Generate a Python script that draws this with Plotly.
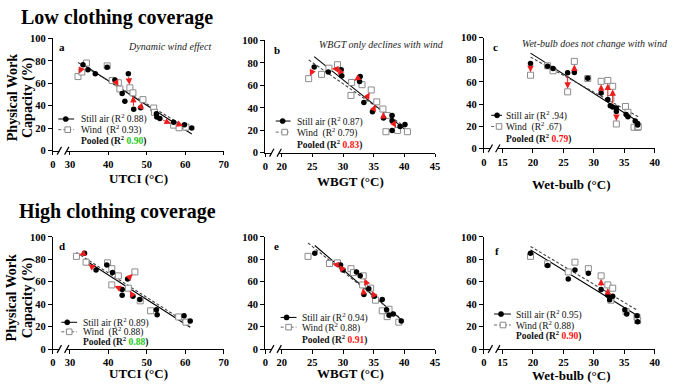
import numpy as np
import plotly.graph_objects as go

W, H = 676, 390
SERIF = "Liberation Serif"

# ---------------- data ----------------
# Panel a: UTCI, low clothing coverage
a_still_x = [33.4, 34.7, 41.7, 45.2, 46.6, 48.4, 53.4, 57.0, 39.7, 36.6, 43.6, 44.3, 52.5, 52.6, 59.8, 61.7]
a_still_y = [76.5, 72.0, 63.0, 68.5, 37.0, 38.3, 28.6, 25.4, 74.3, 68.6, 51.0, 44.0, 33.0, 30.0, 23.2, 20.2]
a_wind_x = [32.1, 34.3, 43.0, 45.6, 46.4, 49.0, 57.0, 60.2, 39.7, 33.1, 41.0, 42.6, 51.8, 52.0, 58.4]
a_wind_y = [66.0, 78.0, 55.0, 56.0, 51.5, 45.5, 22.8, 21.0, 75.5, 70.0, 62.5, 60.5, 38.0, 34.2, 20.5]
a_pairs = 9

# Panel b: WBGT, low clothing coverage
b_still_x = [25.3, 29.7, 32.8, 32.7, 33.4, 34.8, 36.6, 38.0, 38.0, 38.0, 29.8, 27.6, 39.3, 40.1]
b_still_y = [76.4, 74.0, 67.8, 63.4, 44.7, 36.6, 30.9, 33.2, 28.5, 19.9, 68.5, 71.8, 23.4, 25.1]
b_wind_x = [24.4, 27.7, 31.4, 33.1, 34.6, 35.5, 36.5, 37.2, 38.9, 37.0, 29.1, 26.5, 31.3, 40.5]
b_wind_y = [66.0, 75.3, 62.6, 60.6, 55.9, 45.3, 38.9, 33.2, 19.9, 18.7, 78.4, 69.8, 51.0, 18.7]
b_pairs = 11

# Panel c: Wet-bulb, low clothing coverage
c_still_x = [19.6, 22.4, 23.3, 25.7, 26.8, 29.0, 31.2, 32.3, 33.1, 32.7, 33.7, 35.3, 35.6, 36.8, 37.2, 37.2, 33.7]
c_still_y = [76.5, 74.0, 72.0, 68.3, 68.5, 63.3, 50.0, 44.0, 37.3, 38.5, 33.3, 30.5, 28.5, 24.7, 22.5, 21.0, 36.4]
c_wind_x = [19.6, 22.4, 23.3, 25.7, 26.8, 29.0, 31.2, 32.3, 33.1, 32.8, 33.7, 35.2, 35.6, 36.6, 37.2, 37.3]
c_wind_y = [66.0, 74.5, 70.0, 51.0, 78.5, 63.0, 60.5, 61.3, 56.0, 45.0, 22.0, 37.8, 32.5, 19.0, 19.0, 19.5]
c_pairs = 16

# Panel d: UTCI, high clothing coverage
d_still_x = [36.8, 43.6, 46.4, 45.0, 41.1, 33.8, 39.6, 52.5, 59.7, 61.3, 48.2, 43.6, 52.7]
d_still_y = [70.5, 53.2, 47.1, 62.4, 68.2, 85.5, 74.9, 35.0, 29.8, 24.9, 44.2, 48.0, 30.6]
d_wind_x = [34.2, 40.9, 45.2, 46.9, 42.6, 31.7, 39.8, 51.0, 58.3, 60.2, 48.3, 40.9]
d_wind_y = [77.5, 57.2, 54.3, 68.8, 65.3, 82.7, 76.9, 34.1, 28.6, 24.0, 43.0, 71.7]
d_pairs = 11

# Panel e: WBGT, high clothing coverage
e_still_x = [25.4, 29.6, 30.0, 32.2, 32.8, 33.4, 35.1, 36.4, 37.1, 37.5, 39.5, 34.2, 38.2]
e_still_y = [85.5, 74.9, 70.5, 68.8, 65.3, 48.6, 47.1, 44.2, 35.0, 30.1, 24.9, 53.8, 31.2]
e_wind_x = [24.3, 27.8, 29.1, 31.3, 31.7, 33.2, 34.5, 35.3, 36.4, 37.2, 39.1, 33.3, 37.5]
e_wind_y = [82.7, 76.3, 76.9, 71.7, 68.2, 57.2, 54.3, 43.6, 34.1, 28.9, 24.0, 65.3, 35.5]
e_pairs = 12

# Panel f: Wet-bulb, high clothing coverage
f_still_x = [19.6, 22.4, 25.8, 26.9, 29.1, 31.2, 32.3, 33.1, 32.6, 35.1, 37.1, 37.2, 35.4]
f_still_y = [85.5, 74.6, 62.4, 70.5, 67.6, 53.2, 48.0, 47.1, 44.0, 35.0, 29.8, 24.3, 31.2]
f_wind_x = [19.6, 22.4, 25.8, 26.9, 29.1, 31.2, 32.3, 33.1, 32.8, 35.3, 37.1, 37.2]
f_wind_y = [82.7, 76.0, 68.8, 77.5, 71.7, 65.3, 57.2, 54.3, 43.6, 33.5, 28.3, 25.5]
f_pairs = 12

utci_ticks = [30, 40, 50, 60, 70]
wbgt_ticks = [20, 25, 30, 35, 40, 45]
wb_ticks = [15, 20, 25, 30, 35, 40]
y_ticks = [0, 20, 40, 60, 80, 100]
break_label = "0"

r2_still = ["0.88", "0.87", ".94", "0.89", "0.94", "0.95"]
r2_wind = ["0.93", "0.79", ".67", "0.88", "0.88", "0.88"]
r2_pooled = ["0.90", "0.83", "0.79", "0.88", "0.91", "0.90"]
pooled_colors = ["#18c818", "#ff1010", "#ff1010", "#18c818", "#ff1010", "#ff1010"]
wind_labels = ["Wind  ", "Wind  ", "Wind  ", "Wind  ", "Wind ", "Wind "]
panel_letters = ["a", "b", "c", "d", "e", "f"]
x_titles = ["UTCI (°C)", "WBGT (°C)", "Wet-bulb (°C)", "UTCI (°C)", "WBGT (°C)", "Wet-bulb (°C)"]
notes = ["Dynamic wind effect", "WBGT only declines with wind", "Wet-bulb does not change with wind", "", "", ""]

# ---------------- geometry (pixels) ----------------
def P(px):
    return px / W

def Q(py):
    return 1 - py / H

panels = [
    dict(sx=a_still_x, sy=a_still_y, wx=a_wind_x, wy=a_wind_y, n=a_pairs, ticks=utci_ticks,
         left=50.5, tick0=67.7, right=223.3, top=34.3, bottom=150.0,
         leg=(56, 72, 63.5, 77, [117.3, 128.3, 139.5]), letter=(60, 43), xt=(137, 179),
         note=(213, 42.5)),
    dict(sx=b_still_x, sy=b_still_y, wx=b_wind_x, wy=b_wind_y, n=b_pairs, ticks=wbgt_ticks,
         left=265.5, tick0=282.0, right=437.2, top=36.5, bottom=152.0,
         leg=(276, 291, 283, 295, [119.4, 130.8, 143.5]), letter=(277, 46), xt=(352, 182),
         note=(448, 40.5)),
    dict(sx=c_still_x, sy=c_still_y, wx=c_wind_x, wy=c_wind_y, n=c_pairs, ticks=wb_ticks,
         left=486.7, tick0=505.5, right=659.5, top=33.5, bottom=147.5,
         leg=(494, 505, 500, 507.5, [113.5, 125.0, 137.0]), letter=(498, 43), xt=(575, 185),
         note=(675, 39.5)),
    dict(sx=d_still_x, sy=d_still_y, wx=d_wind_x, wy=d_wind_y, n=d_pairs, ticks=utci_ticks,
         left=50.5, tick0=67.7, right=223.3, top=238.7, bottom=354.0,
         leg=(59, 75, 65, 79, [326.5, 336.3, 346.3]), letter=(60, 248), xt=(137, 379.5),
         note=None),
    dict(sx=e_still_x, sy=e_still_y, wx=e_wind_x, wy=e_wind_y, n=e_pairs, ticks=wbgt_ticks,
         left=265.5, tick0=282.0, right=437.2, top=238.7, bottom=354.0,
         leg=(281, 297, 287, 301, [321.5, 331.5, 344.0]), letter=(277, 248), xt=(352, 379),
         note=None),
    dict(sx=f_still_x, sy=f_still_y, wx=f_wind_x, wy=f_wind_y, n=f_pairs, ticks=wb_ticks,
         left=486.7, tick0=505.5, right=659.5, top=238.7, bottom=354.0,
         leg=(497, 514, 504, 517.5, [318.0, 329.3, 340.5]), letter=(500, 253), xt=(575, 381),
         note=None),
]

fig = go.Figure()
annotations = []
shapes = []
layout_axes = {}

tickfont = dict(family=SERIF, size=10.5, color="black", weight="bold")

for k, p in enumerate(panels):
    idx = "" if k == 0 else str(k + 1)
    xa, ya = "x" + idx, "y" + idx
    t0, t1 = p["ticks"][0], p["ticks"][-1]
    ppu_x = (p["right"] - p["tick0"]) / (t1 - t0)
    ppu_y = (p["bottom"] - p["top"]) / 100.0
    x_lo = t0 - (p["tick0"] - p["left"]) / ppu_x

    layout_axes["xaxis" + idx] = dict(
        domain=[P(p["left"]), P(p["right"])], range=[x_lo, t1], anchor=ya,
        showline=True, linecolor="black", linewidth=1.3, ticks="outside", ticklen=3.5,
        tickwidth=1.3, tickcolor="black", tickvals=[x_lo + 1e-6] + p["ticks"],
        ticktext=[break_label] + [str(t) for t in p["ticks"]], tickfont=tickfont,
        showgrid=False, zeroline=False, fixedrange=True)
    layout_axes["yaxis" + idx] = dict(
        domain=[Q(p["bottom"]), Q(p["top"])], range=[0, 100], anchor=xa,
        showline=True, linecolor="black", linewidth=1.3, ticks="outside", ticklen=4,
        tickwidth=1.3, tickcolor="black", tickvals=y_ticks, tickfont=tickfont,
        showgrid=False, zeroline=False, fixedrange=True)

    sx, sy = np.array(p["sx"]), np.array(p["sy"])
    wx, wy = np.array(p["wx"]), np.array(p["wy"])

    # regression lines
    for xs, ys, dash, col in [(sx, sy, "solid", "black"), (wx, wy, "3px,2px", "#444")]:
        m, c = np.polyfit(xs, ys, 1)
        xl = np.array([xs.min(), xs.max()])
        fig.add_trace(go.Scatter(x=xl, y=m * xl + c, mode="lines",
                                 line=dict(color=col, width=1.1, dash=dash),
                                 xaxis=xa, yaxis=ya, showlegend=False, hoverinfo="skip"))
    fig.add_trace(go.Scatter(x=wx, y=wy, mode="markers",
                             marker=dict(symbol="square", size=6, color="white",
                                         line=dict(color="#8c8c8c", width=1)),
                             xaxis=xa, yaxis=ya, showlegend=False))
    fig.add_trace(go.Scatter(x=sx, y=sy, mode="markers",
                             marker=dict(symbol="circle", size=5.5, color="black"),
                             xaxis=xa, yaxis=ya, showlegend=False))

    # red arrows still -> wind
    for i in range(p["n"]):
        dxp = (wx[i] - sx[i]) * ppu_x
        dyp = (wy[i] - sy[i]) * ppu_y
        if np.hypot(dxp, dyp) < 7:
            continue
        annotations.append(dict(x=wx[i], y=wy[i], ax=sx[i], ay=sy[i], xref=xa, yref=ya,
                                axref=xa, ayref=ya, text="", showarrow=True, arrowhead=2,
                                arrowsize=1.3, arrowwidth=1, arrowcolor="#ee1c1c",
                                standoff=3, startstandoff=2))

    # axis break
    yb = p["bottom"]
    s1, s2 = p["left"] + 6.5, p["left"] + 14
    shapes.append(dict(type="line", xref="paper", yref="paper", x0=P(s1), x1=P(s2),
                       y0=Q(yb), y1=Q(yb), line=dict(color="white", width=3.5)))
    for s in (s1, s2):
        shapes.append(dict(type="line", xref="paper", yref="paper", x0=P(s - 2.2), x1=P(s + 2.2),
                           y0=Q(yb + 4), y1=Q(yb - 4), line=dict(color="black", width=1.2)))

    # legend
    lx0, lx1, dotx, tx, rows = p["leg"]
    shapes.append(dict(type="line", xref="paper", yref="paper", x0=P(lx0), x1=P(lx1),
                       y0=Q(rows[0]), y1=Q(rows[0]), line=dict(color="black", width=1)))
    shapes.append(dict(type="circle", xref="paper", yref="paper", xsizemode="pixel",
                       ysizemode="pixel", xanchor=P(dotx), yanchor=Q(rows[0]),
                       x0=-2.6, x1=2.6, y0=-2.6, y1=2.6, fillcolor="black",
                       line=dict(color="black", width=0.5)))
    shapes.append(dict(type="line", xref="paper", yref="paper", x0=P(lx0), x1=P(lx1),
                       y0=Q(rows[1]), y1=Q(rows[1]),
                       line=dict(color="#666", width=1, dash="3px,2px")))
    shapes.append(dict(type="rect", xref="paper", yref="paper", xsizemode="pixel",
                       ysizemode="pixel", xanchor=P(dotx + 2), yanchor=Q(rows[1]),
                       x0=-2.8, x1=2.8, y0=-2.8, y1=2.8, fillcolor="white",
                       line=dict(color="#888", width=1)))
    legtexts = [
        f"Still air (R<sup>2</sup> {r2_still[k]})",
        f"{wind_labels[k]}(R<sup>2</sup> {r2_wind[k]})",
        f"<b>Pooled (R<sup>2</sup> <span style='color:{pooled_colors[k]}'>{r2_pooled[k]}</span>)</b>",
    ]
    for txt, ry in zip(legtexts, rows):
        annotations.append(dict(x=P(tx), y=Q(ry), xref="paper", yref="paper", text=txt,
                                showarrow=False, xanchor="left", yanchor="middle",
                                font=dict(family=SERIF, size=9.5, color="#111")))

    # panel letter
    annotations.append(dict(x=P(p["letter"][0]), y=Q(p["letter"][1]), xref="paper", yref="paper",
                            text=f"<b>{panel_letters[k]}</b>", showarrow=False,
                            xanchor="center", yanchor="middle",
                            font=dict(family=SERIF, size=11, color="black")))
    # x title
    annotations.append(dict(x=P(p["xt"][0]), y=Q(p["xt"][1]), xref="paper", yref="paper",
                            text=f"<b>{x_titles[k]}</b>", showarrow=False,
                            xanchor="center", yanchor="middle",
                            font=dict(family=SERIF, size=13, color="black")))
    # note
    if p["note"] is not None and notes[k]:
        annotations.append(dict(x=P(p["note"][0]), y=Q(p["note"][1]), xref="paper", yref="paper",
                                text=f"<i>{notes[k]}</i>", showarrow=False,
                                xanchor="right", yanchor="middle",
                                font=dict(family=SERIF, size=10, color="#222")))

# section titles
for txt, cy in [("Low clothing coverage", 12.5), ("High clothing coverage", 212.5)]:
    annotations.append(dict(x=P(115.5), y=Q(cy), xref="paper", yref="paper",
                            text=f"<b>{txt}</b>", showarrow=False, xanchor="center",
                            yanchor="middle", font=dict(family=SERIF, size=20, color="black")))

# y-axis titles (rows a and d)
for cy in (95.5, 301.5):
    for line, cx in [("Physical Work", 9.5), ("Capacity (%)", 25.5)]:
        annotations.append(dict(x=P(cx), y=Q(cy), xref="paper", yref="paper",
                                text=f"<b>{line}</b>", showarrow=False, textangle=-90,
                                xanchor="center", yanchor="middle",
                                font=dict(family=SERIF, size=14, color="black")))

fig.update_layout(
    width=W, height=H, margin=dict(l=0, r=0, t=0, b=0),
    paper_bgcolor="white", plot_bgcolor="white",
    showlegend=False, annotations=annotations, shapes=shapes,
    font=dict(family=SERIF, color="black"),
    **layout_axes,
)

fig.write_html("out.html", config={"displayModeBar": False},
               post_script="document.body.style.margin='0px';document.body.style.padding='0px';")
